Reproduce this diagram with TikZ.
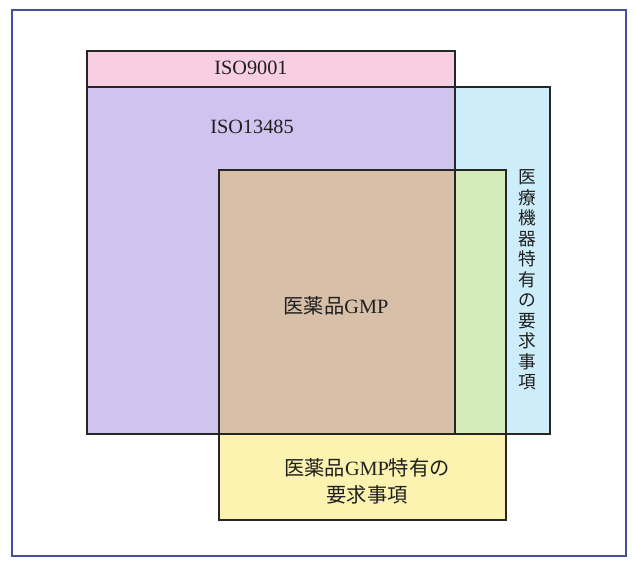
\documentclass[tikz,border=0pt]{standalone}
\usepackage{fontspec}
\setmainfont{Liberation Serif}
\newfontfamily\cjk{Noto Sans CJK JP}
\definecolor{framecol}{RGB}{70,78,160}
\definecolor{pinkc}{RGB}{247,206,226}
\definecolor{cyanc}{RGB}{205,237,250}
\definecolor{purplec}{RGB}{208,196,238}
\definecolor{yellowc}{RGB}{252,243,176}
\definecolor{greenc}{RGB}{212,236,186}
\definecolor{brownc}{RGB}{216,192,168}
\tikzset{
  boxline/.style={draw=black!85, line width=1.1pt},
  lbl/.style={inner sep=0pt, font=\fontsize{15.2}{20.5}\selectfont, text=black!88},
  vlbl/.style={inner sep=0pt, align=center, font=\fontsize{13.3}{15.4}\selectfont\cjk, text=black!88}
}
\begin{document}
\begin{tikzpicture}[x=0.75pt, y=-0.75pt]
\useasboundingbox (0,0) rectangle (635,561);
\fill[white] (0,0) rectangle (635,561);
% outer frame
\draw[framecol, line width=1.5pt] (12,10) rectangle (626,556);
% region fills
\fill[pinkc] (87,51) rectangle (455,434);
\fill[cyanc] (87,87) rectangle (550,434);
\fill[purplec] (87,87) rectangle (455,434);
\fill[yellowc] (219,170) rectangle (506,520);
\fill[greenc] (219,170) rectangle (506,434);
\fill[brownc] (219,170) rectangle (455,434);
% outlines
\draw[boxline] (87,51) rectangle (455,434);
\draw[boxline] (87,87) rectangle (550,434);
\draw[boxline] (219,170) rectangle (506,520);
% labels
\node[lbl] (iso9001) at (251,68) {ISO9001};
\node[lbl] (iso13485) at (252,127) {ISO13485};
\node[lbl] (gmp) at (336,306) {{\cjk 医薬品}GMP};
\node[lbl, align=center] (gmpreq) at (367,481) {{\cjk 医薬品}GMP{\cjk 特有の}\\{\cjk 要求事項}};
\node[vlbl] (mdreq) at (527,280) {医\\療\\機\\器\\特\\有\\の\\要\\求\\事\\項};
\end{tikzpicture}
\end{document}
